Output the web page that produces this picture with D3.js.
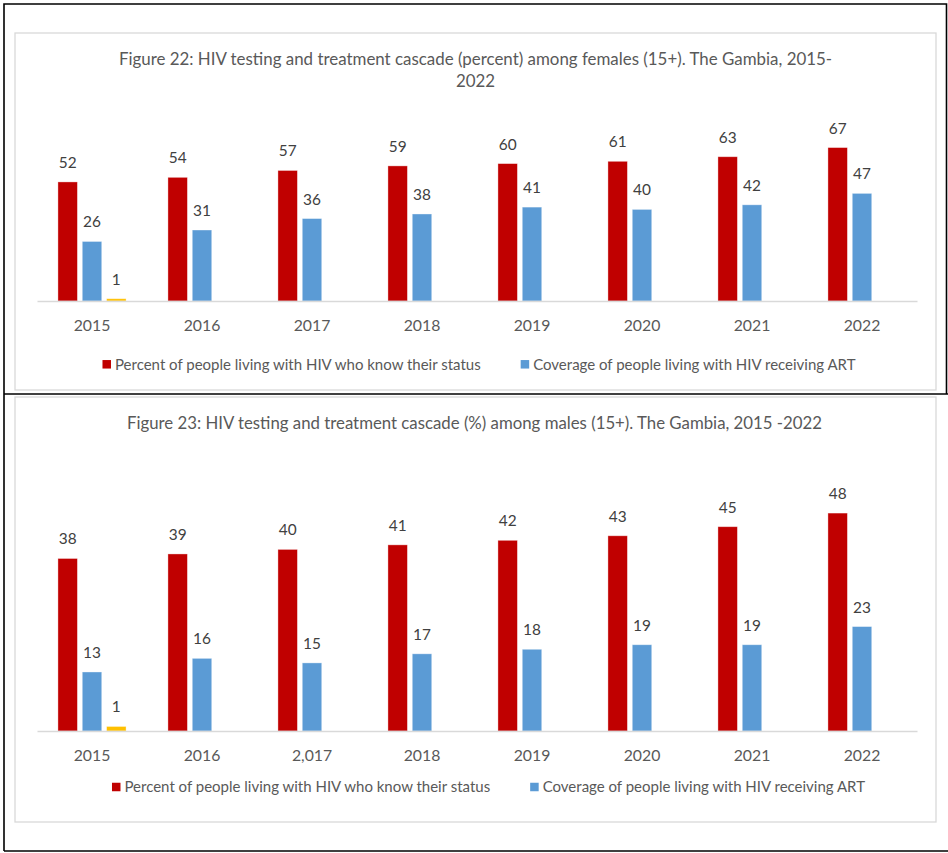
<!DOCTYPE html>
<html>
<head>
<meta charset="utf-8">
<script src="https://cdn.jsdelivr.net/npm/d3@7"></script>
<style>
  html, body { margin: 0; padding: 0; background: #fff; }
  svg { display: block; font-family: Lato, "Open Sans", sans-serif; }
</style>
</head>
<body>
<svg id="page" width="948" height="853"></svg>
<script>
// HIV testing and treatment cascade, The Gambia 2015-2022
const yearsFemale = ["2015", "2016", "2017", "2018", "2019", "2020", "2021", "2022"];
const yearsMale   = ["2015", "2016", "2,017", "2018", "2019", "2020", "2021", "2022"];

const seriesNames = [
  "Percent of people living with HIV who know their status",
  "Coverage of people living with HIV receiving ART"
];

const femaleKnow  = [52, 54, 57, 59, 60, 61, 63, 67];
const femaleART   = [26, 31, 36, 38, 41, 40, 42, 47];
const femaleThird = [1, null, null, null, null, null, null, null];

const maleKnow  = [38, 39, 40, 41, 42, 43, 45, 48];
const maleART   = [13, 16, 15, 17, 18, 19, 19, 23];
const maleThird = [1, null, null, null, null, null, null, null];

const colors = ["#C00000", "#5B9BD5", "#FFC000"];
const textGrey = "#595959";
const labelGrey = "#404040";

const svg = d3.select("#page");

// Page frame: two stacked table cells
const frame = svg.append("g").attr("fill", "none").attr("stroke", "#000").attr("stroke-width", 1.6);
frame.append("path").attr("d", "M4,851 V4 H946.5 V394");
frame.append("path").attr("d", "M4,394 H948");
frame.append("path").attr("d", "M4,851 H948");

function drawChart(cfg) {
  const g = svg.append("g");

  // chart container
  g.append("rect")
    .attr("x", cfg.box[0]).attr("y", cfg.box[1])
    .attr("width", cfg.box[2]).attr("height", cfg.box[3])
    .attr("fill", "#fff").attr("stroke", "#D9D9D9").attr("stroke-width", 1.3);

  // title
  cfg.title.forEach((line, i) => {
    g.append("text")
      .attr("x", cfg.titleX).attr("y", cfg.titleY + i * 22.5)
      .attr("dy", "0.35em")
      .attr("text-anchor", "middle")
      .attr("fill", textGrey)
      .style("font-size", cfg.titleSize + "px")
      .text(line);
  });

  const x = d3.scaleBand().domain(cfg.cats).range([37, 917]).padding(0);
  const xs = d3.scaleBand().domain([0, 1, 2]).range([0, x.bandwidth()])
    .paddingInner(0.2).paddingOuter(0.86);
  const y = d3.scaleLinear().domain([0, cfg.yMax]).range([cfg.baseline, cfg.top]);

  const rows = [];
  cfg.series.forEach((vals, s) => {
    vals.forEach((v, i) => {
      if (v !== null && v !== undefined) rows.push({ cat: cfg.cats[i], s, v });
    });
  });

  g.append("g").selectAll("rect").data(rows).join("rect")
    .attr("x", d => x(d.cat) + xs(d.s))
    .attr("y", d => y(d.v))
    .attr("width", xs.bandwidth())
    .attr("height", d => y(0) - y(d.v))
    .attr("fill", d => colors[d.s])
    .attr("stroke", "#fff").attr("stroke-opacity", 0.45).attr("stroke-width", 0.8);

  g.append("g").selectAll("text").data(rows).join("text")
    .attr("x", d => x(d.cat) + xs(d.s) + xs.bandwidth() / 2)
    .attr("y", d => y(d.v) - 14)
    .attr("text-anchor", "middle")
    .attr("fill", labelGrey)
    .style("font-size", "15.4px")
    .text(d => d.v);

  // category axis
  const axis = g.append("g")
    .attr("transform", `translate(0,${cfg.baseline})`)
    .call(d3.axisBottom(x).tickSize(0).tickPadding(0));
  axis.select(".domain").attr("stroke", "#D9D9D9").attr("stroke-width", 1.3);
  axis.selectAll(".tick text")
    .attr("y", cfg.yearY - cfg.baseline)
    .attr("dy", "0.35em")
    .attr("fill", textGrey)
    .style("font-family", "Lato, 'Open Sans', sans-serif")
    .style("font-size", "15.8px");

  // legend
  const leg = g.append("g");
  const items = seriesNames.map((name, i) => {
    const it = leg.append("g");
    it.append("rect").attr("width", 8.5).attr("height", 8.5)
      .attr("y", cfg.legendY - 4.25).attr("fill", colors[i]);
    const t = it.append("text").attr("x", 12.5).attr("y", cfg.legendY)
      .attr("dy", "0.35em").attr("fill", textGrey)
      .style("font-size", "15px").text(name);
    return { it, w: 12.5 + t.node().getComputedTextLength() };
  });
  const gap = 40;
  const total = d3.sum(items, d => d.w) + gap * (items.length - 1);
  let cx = cfg.legendCenter - total / 2;
  items.forEach(d => {
    d.it.attr("transform", `translate(${cx},0)`);
    cx += d.w + gap;
  });
}

drawChart({
  box: [15, 33, 921, 357],
  title: ["Figure 22: HIV testing and treatment cascade (percent) among females (15+). The Gambia, 2015-", "2022"],
  titleX: 475.5, titleY: 59, titleSize: 16.9,
  cats: yearsFemale,
  series: [femaleKnow, femaleART, femaleThird],
  yMax: 80, baseline: 301, top: 301 - 80 * 2.29,
  yearY: 325.5,
  legendY: 364.3, legendCenter: 479
});

drawChart({
  box: [15, 397, 921, 425],
  title: ["Figure 23: HIV testing and treatment cascade (%) among males (15+). The Gambia, 2015 -2022"],
  titleX: 474.5, titleY: 422.7, titleSize: 16.8,
  cats: yearsMale,
  series: [maleKnow, maleART, maleThird],
  yMax: 60, baseline: 731, top: 731 - 60 * 4.54,
  yearY: 755.5,
  legendY: 787, legendCenter: 488.5
});
</script>
</body>
</html>
